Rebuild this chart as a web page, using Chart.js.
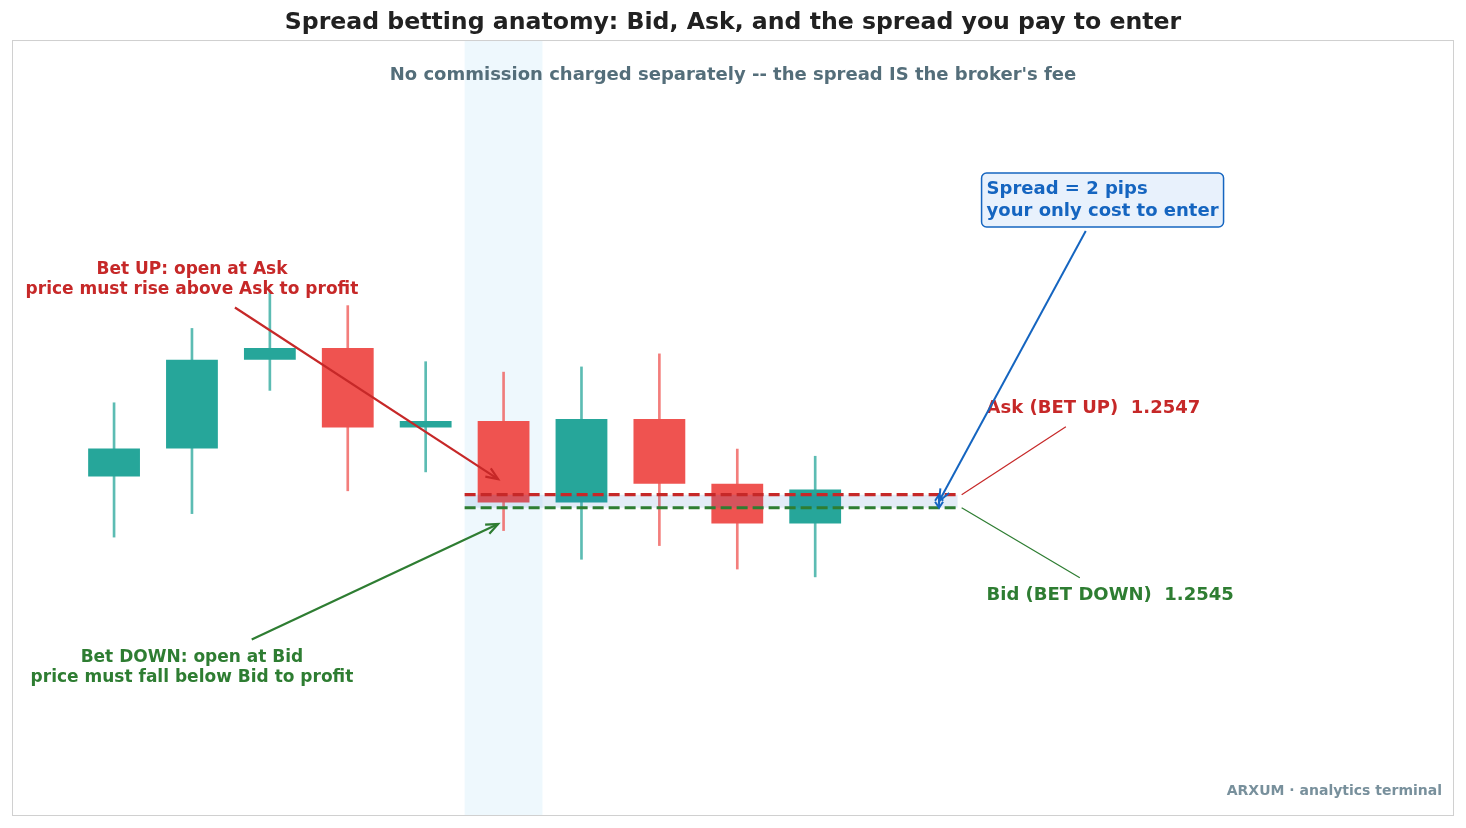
<!DOCTYPE html>
<html>
<head>
<meta charset="utf-8">
<title>Spread betting anatomy</title>
<script src="https://cdn.jsdelivr.net/npm/chart.js@4.4.1/dist/chart.umd.min.js"></script>
<style>
    html, body { margin: 0; padding: 0; background: #ffffff; }
    #wrap { width: 1466px; height: 828px; position: relative; }
</style>
</head>
<body>
<div id="wrap"><canvas id="spreadChart"></canvas></div>
<script>
/* ============================================================
   DATA — ten candles, then the Ask / Bid quote
============================================================ */
const candleIndex = [0, 1, 2, 3, 4, 5, 6, 7, 8, 9];
const openPrice  = [1.25498, 1.25541, 1.25677, 1.25695, 1.25573, 1.25583, 1.25458, 1.25586, 1.25487, 1.25426];
const closePrice = [1.25541, 1.25677, 1.25695, 1.25573, 1.25583, 1.25458, 1.25586, 1.25487, 1.25426, 1.25478];
const highPrice  = [1.25611, 1.25725, 1.25780, 1.25760, 1.25674, 1.25658, 1.25666, 1.25686, 1.25540, 1.25529];
const lowPrice   = [1.25405, 1.25441, 1.25630, 1.25476, 1.25505, 1.25415, 1.25371, 1.25392, 1.25356, 1.25344];

const askPrice = 1.2547;
const bidPrice = 1.2545;
const quoteLineX = [4.5, 10.83];   // where the Ask/Bid lines run
const entryCandle = 5;             // highlighted candle

const xLimits = [-1.31, 17.2];
const yLimits = [1.249773, 1.261673];

const FONT = "'DejaVu Sans', 'Liberation Sans', sans-serif";
const UP = "#26a69a", DOWN = "#ef5350";
const RED = "#c62828", GREEN = "#2e7d32", BLUE = "#1565c0";


/* ------------------------------------------------------------
   ANNOTATIONS (anchor + target in data units)
------------------------------------------------------------ */
const notes = [
    { lines: ["Bet UP: open at Ask", "price must rise above Ask to profit"],
      at: [1, 1.25800], tip: [4.93, 1.25494], color: RED, align: "center", size: 17, lh: 20, arrow: "head", lw: 2.2 },
    { lines: ["Bet DOWN: open at Bid", "price must fall below Bid to profit"],
      at: [1, 1.25205], tip: [4.93, 1.25425], color: GREEN, align: "center", size: 17, lh: 20, arrow: "head", lw: 2.2 },
    { lines: ["Ask (BET UP)  " + askPrice.toFixed(4)],
      at: [11.2, 1.25602], tip: [10.88, askPrice], color: RED, align: "left", size: 18, lh: 20, arrow: "line", lw: 1.2 },
    { lines: ["Bid (BET DOWN)  " + bidPrice.toFixed(4)],
      at: [11.2, 1.25315], tip: [10.88, bidPrice], color: GREEN, align: "left", size: 18, lh: 20, arrow: "line", lw: 1.2 },
    { lines: ["Spread = 2 pips", "your only cost to enter"],
      at: [11.2, 1.25922], tip: [10.59, (askPrice + bidPrice) / 2], color: BLUE, align: "left", size: 18, lh: 22, arrow: "head", lw: 2, box: true }
];


/* ------------------------------------------------------------
   SMALL DRAWING HELPERS
------------------------------------------------------------ */
function drawHead(ctx, x0, y0, x1, y1, len, half) {
    const a = Math.atan2(y1 - y0, x1 - x0);
    const bx = x1 - len * Math.cos(a), by = y1 - len * Math.sin(a);
    const nx = -Math.sin(a) * half, ny = Math.cos(a) * half;
    ctx.beginPath();
    ctx.moveTo(bx + nx, by + ny);
    ctx.lineTo(x1, y1);
    ctx.lineTo(bx - nx, by - ny);
    ctx.stroke();
}

// point where the line centre->tip leaves the text box (plus a gap)
function clipFromBox(box, tx, ty, gap) {
    const dx = tx - box.cx, dy = ty - box.cy;
    const tX = dx === 0 ? Infinity : (box.w / 2 + gap) / Math.abs(dx);
    const tY = dy === 0 ? Infinity : (box.h / 2 + gap) / Math.abs(dy);
    const t = Math.min(tX, tY);
    return [box.cx + dx * t, box.cy + dy * t];
}

function drawNote(ctx, x, y, note) {
    ctx.font = `bold ${note.size}px ${FONT}`;
    const px = x.getPixelForValue(note.at[0]);
    const py = y.getPixelForValue(note.at[1]);
    const w = Math.max(...note.lines.map(l => ctx.measureText(l).width));
    const h = note.lines.length * note.lh;
    const left = note.align === "left" ? px : px - w / 2;
    const box = { cx: left + w / 2, cy: py, w: w, h: h };

    if (note.box) {
        ctx.save();
        ctx.fillStyle = "#e8f1fc";
        ctx.strokeStyle = BLUE;
        ctx.lineWidth = 1.5;
        ctx.beginPath();
        ctx.roundRect(left - 5, py - h / 2 - 5, w + 10, h + 10, 5);
        ctx.fill();
        ctx.stroke();
        ctx.restore();
    }

    // connector
    const tx = x.getPixelForValue(note.tip[0]);
    const ty = y.getPixelForValue(note.tip[1]);
    const [sx, sy] = clipFromBox(box, tx, ty, note.box ? 9 : 8);
    ctx.save();
    ctx.strokeStyle = note.color;
    ctx.lineWidth = note.lw;
    ctx.beginPath();
    ctx.moveTo(sx, sy);
    ctx.lineTo(tx, ty);
    ctx.stroke();
    if (note.arrow === "head") drawHead(ctx, sx, sy, tx, ty, 12, 5);
    ctx.restore();

    // text
    ctx.fillStyle = note.color;
    ctx.textAlign = note.align;
    ctx.textBaseline = "middle";
    note.lines.forEach((line, k) => {
        ctx.fillText(line, px, py - h / 2 + note.lh * (k + 0.5));
    });
}


/* ------------------------------------------------------------
   PLUGIN: highlight band, notes, frame, captions
------------------------------------------------------------ */
const anatomyPlugin = {
    id: "anatomy",
    beforeDatasetsDraw(chart) {
        const { ctx, chartArea, scales: { x } } = chart;
        const l = x.getPixelForValue(entryCandle - 0.5);
        const r = x.getPixelForValue(entryCandle + 0.5);
        ctx.save();
        ctx.fillStyle = "rgba(3,155,229,0.065)";
        ctx.fillRect(l, chartArea.top, r - l, chartArea.bottom - chartArea.top);
        ctx.restore();
    },
    afterDatasetsDraw(chart) {
        const { ctx, chartArea, scales: { x, y } } = chart;
        ctx.save();

        // little <-> between Ask and Bid
        const sx = x.getPixelForValue(10.59);
        const ya = y.getPixelForValue(askPrice), yb = y.getPixelForValue(bidPrice);
        ctx.strokeStyle = BLUE;
        ctx.lineWidth = 2;
        ctx.beginPath();
        ctx.moveTo(sx, ya);
        ctx.lineTo(sx, yb);
        ctx.stroke();
        drawHead(ctx, sx, yb, sx, ya, 6, 4);
        drawHead(ctx, sx, ya, sx, yb, 6, 4);

        notes.forEach(n => drawNote(ctx, x, y, n));

        // subtitle inside the axes
        ctx.font = `bold 18px ${FONT}`;
        ctx.fillStyle = "#546e7a";
        ctx.textAlign = "center";
        ctx.textBaseline = "middle";
        ctx.fillText("No commission charged separately -- the spread IS the broker's fee",
            (chartArea.left + chartArea.right) / 2, chartArea.top + 35);

        // footer
        ctx.font = `bold 14px ${FONT}`;
        ctx.fillStyle = "#78909c";
        ctx.textAlign = "right";
        ctx.fillText("ARXUM \u00b7 analytics terminal", chartArea.right - 12, chartArea.bottom - 25);
        ctx.restore();
    },
    afterDraw(chart) {
        const { ctx, chartArea } = chart;
        ctx.save();
        ctx.strokeStyle = "#d0d0d0";
        ctx.lineWidth = 1;
        ctx.strokeRect(chartArea.left + 0.5, chartArea.top + 0.5,
            chartArea.right - chartArea.left - 1, chartArea.bottom - chartArea.top - 1);
        ctx.restore();
    }
};


/* ------------------------------------------------------------
   BUILD THE CHART
------------------------------------------------------------ */
const isUp = candleIndex.map(i => closePrice[i] >= openPrice[i]);

new Chart(document.getElementById("spreadChart").getContext("2d"), {
    type: "bar",
    data: {
        datasets: [
            {
                label: "wicks",
                data: candleIndex.map(i => ({ x: i, y: [lowPrice[i], highPrice[i]] })),
                backgroundColor: isUp.map(u => u ? "rgba(38,166,154,0.75)" : "rgba(239,83,80,0.75)"),
                barThickness: 2,
                grouped: false,
                order: 3
            },
            {
                label: "bodies",
                data: candleIndex.map(i => ({ x: i, y: [openPrice[i], closePrice[i]] })),
                backgroundColor: isUp.map(u => u ? UP : DOWN),
                barPercentage: 0.665,
                categoryPercentage: 1,
                grouped: false,
                order: 2
            },
            {
                type: "line",
                label: "Ask",
                data: quoteLineX.map(v => ({ x: v, y: askPrice })),
                borderColor: RED,
                borderWidth: 3.2,
                borderDash: [11, 5],
                pointRadius: 0,
                fill: false,
                order: 1
            },
            {
                type: "line",
                label: "Bid",
                data: quoteLineX.map(v => ({ x: v, y: bidPrice })),
                borderColor: GREEN,
                borderWidth: 3.2,
                borderDash: [11, 5],
                pointRadius: 0,
                fill: "-1",
                backgroundColor: "rgba(21,101,192,0.12)",
                order: 1
            }
        ]
    },
    options: {
        responsive: true,
        maintainAspectRatio: false,
        animation: false,
        layout: { padding: { left: 12, right: 12, top: 0, bottom: 12 } },
        plugins: {
            legend: { display: false },
            tooltip: { enabled: false },
            title: {
                display: true,
                text: "Spread betting anatomy: Bid, Ask, and the spread you pay to enter",
                color: "#212121",
                font: { family: FONT, size: 23.6, weight: "bold" },
                padding: { top: 8.5, bottom: 3.2 }
            }
        },
        scales: {
            x: { type: "linear", min: xLimits[0], max: xLimits[1], offset: false, display: false },
            y: { min: yLimits[0], max: yLimits[1], display: false }
        }
    },
    plugins: [anatomyPlugin]
});
</script>
</body>
</html>
